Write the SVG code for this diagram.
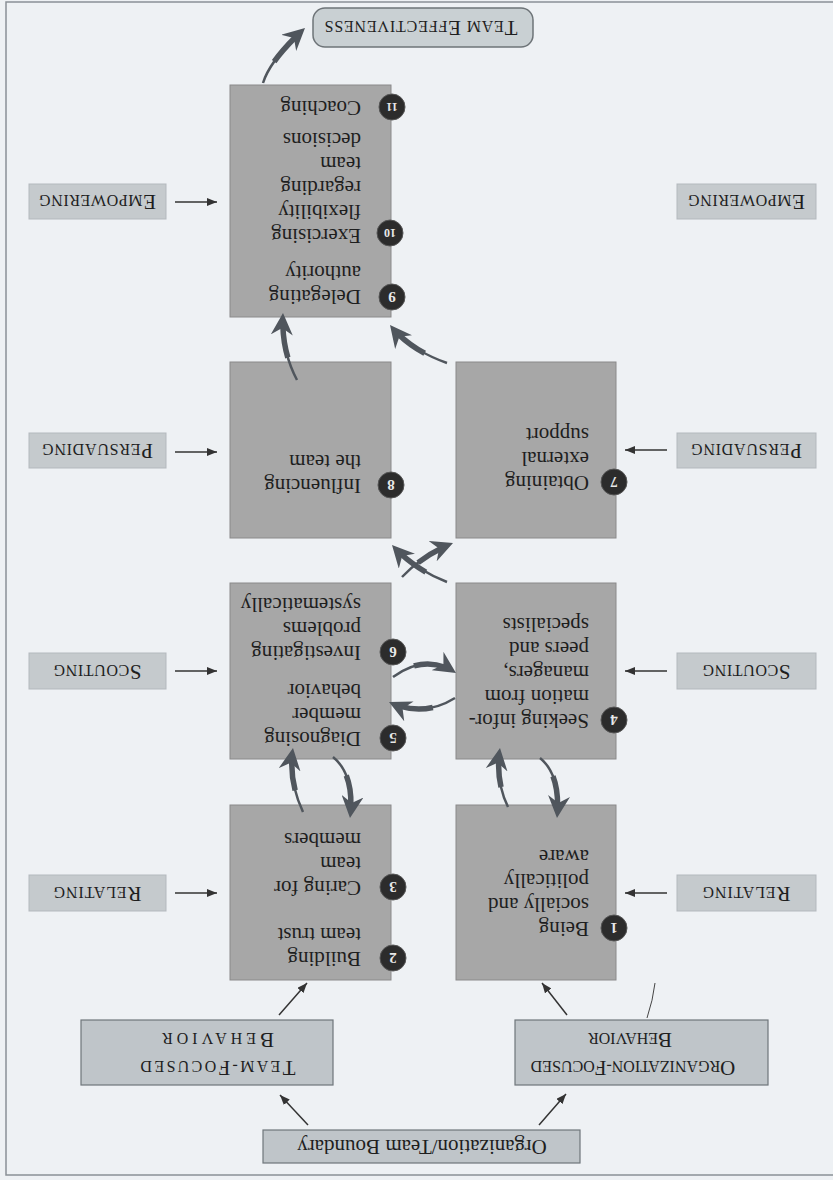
<svg xmlns="http://www.w3.org/2000/svg" width="833" height="1180" viewBox="0 0 833 1180">
<style>
.bg{fill:#eef1f4}
.frame{fill:none;stroke:#8a9096;stroke-width:1.5}
.box{fill:#a7a7a7;stroke:#8a8a8a;stroke-width:1}
.lbl{fill:#c5cacd;stroke:#b3b9bd;stroke-width:1}
.bbox{fill:#bfc5c9;stroke:#6f767b;stroke-width:1.2}
.te{fill:#c9d0d3;stroke:#6e7478;stroke-width:1.5}
text{font-family:"Liberation Serif","Times New Roman",serif;fill:#1e1e1e}
.bt{font-size:21px}
.nt{font-size:15px;font-weight:bold;fill:#e8e8e8;text-anchor:middle}
.nt2{font-size:12px;font-weight:bold;fill:#e8e8e8;text-anchor:middle}
.num{fill:#2c2c2c;stroke:#555;stroke-width:1}
.lt{font-size:16px;text-anchor:middle}
.lt .c{font-size:21px}
.bx{font-size:16px;text-anchor:middle}
.bx .c{font-size:21px}
.bd{font-size:21px;text-anchor:middle}
.ar{fill:none;stroke:#333;stroke-width:1.5;marker-end:url(#ah)}
.thin{fill:none;stroke:#444;stroke-width:1}
.sw{fill:none;stroke:#50565d;stroke-width:2.5;stroke-dasharray:86 14;marker-end:url(#hd)}
.sw2{fill:none;stroke:#50565d;stroke-width:5.5;stroke-dasharray:47 53;stroke-dashoffset:-35}
</style>
<defs>
<marker id="hd" markerUnits="userSpaceOnUse" viewBox="0 0 22 22" refX="22" refY="11" markerWidth="22" markerHeight="22" orient="auto">
<path d="M0,0 L22,11 L0,22 L7,11 Z" fill="#50565d"/>
</marker>
<marker id="ah" markerUnits="userSpaceOnUse" viewBox="0 0 10 8" refX="10" refY="4" markerWidth="10" markerHeight="8" orient="auto">
<path d="M0,0 L10,4 L0,8 Z" fill="#333"/>
</marker>
</defs>
<rect class="bg" x="0" y="0" width="833" height="1180"/>
<g transform="rotate(180 416.5 590)">
<rect class="frame" x="-10" y="5" width="837" height="1173"/>

<g id="team-effectiveness">
<rect class="te" x="300" y="1133" width="220" height="39" rx="12"/>
<text class="bx" x="412" y="1159" textLength="193" lengthAdjust="spacing"><tspan class="c">T</tspan>EAM <tspan class="c">E</tspan>FFECTIVENESS</text>
</g>

<g id="box-9-11">
<rect class="box" x="442" y="863" width="161" height="232"/>
<circle class="num" cx="441" cy="883" r="13"/><text class="nt" x="441" y="888">9</text>
<text class="bt" x="472" y="890">Delegating</text>
<text class="bt" x="472" y="914">authority</text>
<circle class="num" cx="443" cy="947" r="13"/><text class="nt2" x="443" y="951">10</text>
<text class="bt" x="472" y="951">Exercising</text>
<text class="bt" x="472" y="975">flexibility</text>
<text class="bt" x="472" y="999">regarding</text>
<text class="bt" x="472" y="1023">team</text>
<text class="bt" x="472" y="1047">decisions</text>
<circle class="num" cx="441" cy="1073" r="13"/><text class="nt2" x="441" y="1077">11</text>
<text class="bt" x="472" y="1079">Coaching</text>
</g>

<g id="box-8">
<rect class="box" x="442" y="642" width="161" height="176"/>
<circle class="num" cx="442" cy="695" r="13"/><text class="nt" x="442" y="700">8</text>
<text class="bt" x="472" y="701">Influencing</text>
<text class="bt" x="472" y="725">the team</text>
</g>

<g id="box-7">
<rect class="box" x="217" y="642" width="160" height="176"/>
<circle class="num" cx="219" cy="698" r="13"/><text class="nt" x="219" y="703">7</text>
<text class="bt" x="244" y="704">Obtaining</text>
<text class="bt" x="244" y="728">external</text>
<text class="bt" x="244" y="752">support</text>
</g>

<g id="box-5-6">
<rect class="box" x="442" y="421" width="161" height="176"/>
<circle class="num" cx="440" cy="442" r="13"/><text class="nt" x="440" y="447">5</text>
<text class="bt" x="472" y="448">Diagnosing</text>
<text class="bt" x="472" y="472">member</text>
<text class="bt" x="472" y="496">behavior</text>
<circle class="num" cx="440" cy="528" r="13"/><text class="nt" x="440" y="533">6</text>
<text class="bt" x="472" y="534">Investigating</text>
<text class="bt" x="472" y="558">problems</text>
<text class="bt" x="472" y="582">systematically</text>
</g>

<g id="box-4">
<rect class="box" x="217" y="421" width="160" height="176"/>
<circle class="num" cx="219" cy="460" r="13"/><text class="nt" x="219" y="465">4</text>
<text class="bt" x="244" y="466">Seeking infor-</text>
<text class="bt" x="244" y="490">mation from</text>
<text class="bt" x="244" y="514">managers,</text>
<text class="bt" x="244" y="538">peers and</text>
<text class="bt" x="244" y="562">specialists</text>
</g>

<g id="box-2-3">
<rect class="box" x="442" y="200" width="161" height="175"/>
<circle class="num" cx="440" cy="222" r="13"/><text class="nt" x="440" y="227">2</text>
<text class="bt" x="472" y="228">Building</text>
<text class="bt" x="472" y="252">team trust</text>
<circle class="num" cx="440" cy="293" r="13"/><text class="nt" x="440" y="298">3</text>
<text class="bt" x="472" y="299">Caring for</text>
<text class="bt" x="472" y="323">team</text>
<text class="bt" x="472" y="347">members</text>
</g>

<g id="box-1">
<rect class="box" x="217" y="200" width="160" height="175"/>
<circle class="num" cx="219" cy="252" r="13"/><text class="nt" x="219" y="257">1</text>
<text class="bt" x="244" y="258">Being</text>
<text class="bt" x="244" y="282">socially and</text>
<text class="bt" x="244" y="306">politically</text>
<text class="bt" x="244" y="330">aware</text>
</g>

<g id="label-empowering-left">
<rect class="lbl" x="667" y="961" width="137" height="35"/>
<text class="lt" x="735.5" y="985" textLength="117" lengthAdjust="spacing"><tspan class="c">E</tspan>MPOWERING</text>
</g>
<g id="label-empowering-right">
<rect class="lbl" x="17" y="961" width="139" height="35"/>
<text class="lt" x="86.5" y="985" textLength="117" lengthAdjust="spacing"><tspan class="c">E</tspan>MPOWERING</text>
</g>
<g id="label-persuading-left">
<rect class="lbl" x="667" y="712" width="137" height="35"/>
<text class="lt" x="735.5" y="736" textLength="111" lengthAdjust="spacing"><tspan class="c">P</tspan>ERSUADING</text>
</g>
<g id="label-persuading-right">
<rect class="lbl" x="17" y="712" width="139" height="35"/>
<text class="lt" x="86.5" y="736" textLength="111" lengthAdjust="spacing"><tspan class="c">P</tspan>ERSUADING</text>
</g>
<g id="label-scouting-left">
<rect class="lbl" x="667" y="491" width="137" height="36"/>
<text class="lt" x="735.5" y="515" textLength="88" lengthAdjust="spacing"><tspan class="c">S</tspan>COUTING</text>
</g>
<g id="label-scouting-right">
<rect class="lbl" x="17" y="491" width="139" height="36"/>
<text class="lt" x="86.5" y="515" textLength="88" lengthAdjust="spacing"><tspan class="c">S</tspan>COUTING</text>
</g>
<g id="label-relating-left">
<rect class="lbl" x="667" y="269" width="137" height="36"/>
<text class="lt" x="735.5" y="293" textLength="88" lengthAdjust="spacing"><tspan class="c">R</tspan>ELATING</text>
</g>
<g id="label-relating-right">
<rect class="lbl" x="17" y="269" width="139" height="36"/>
<text class="lt" x="86.5" y="293" textLength="88" lengthAdjust="spacing"><tspan class="c">R</tspan>ELATING</text>
</g>

<g id="team-focused">
<rect class="bbox" x="500" y="95" width="252" height="65"/>
<text class="bx" x="615" y="119" textLength="155" lengthAdjust="spacing"><tspan class="c">T</tspan>EAM-<tspan class="c">F</tspan>OCUSED</text>
<text class="bx" x="615" y="147" textLength="112" lengthAdjust="spacing"><tspan class="c">B</tspan>EHAVIOR</text>
</g>
<g id="organization-focused">
<rect class="bbox" x="65" y="95" width="253" height="65"/>
<text class="bx" x="200" y="119"><tspan class="c">O</tspan>RGANIZATION-<tspan class="c">F</tspan>OCUSED</text>
<text class="bx" x="203" y="147"><tspan class="c">B</tspan>EHAVIOR</text>
</g>
<g id="boundary">
<rect class="bbox" x="253" y="17" width="317" height="33"/>
<text class="bd" x="411" y="40">Organization/Team Boundary</text>
</g>

<g id="connectors">
<line class="ar" x1="658" y1="978" x2="616" y2="978"/>
<line class="ar" x1="658" y1="728" x2="616" y2="728"/>
<line class="ar" x1="658" y1="509" x2="616" y2="509"/>
<line class="ar" x1="658" y1="287" x2="616" y2="287"/>
<line class="ar" x1="166" y1="730" x2="208" y2="730"/>
<line class="ar" x1="166" y1="509" x2="208" y2="509"/>
<line class="ar" x1="166" y1="287" x2="208" y2="287"/>
<line class="ar" x1="525" y1="55" x2="553" y2="85"/>
<line class="ar" x1="294" y1="55" x2="267" y2="86"/>
<line class="ar" x1="554" y1="165" x2="526" y2="197"/>
<line class="ar" x1="266" y1="165" x2="291" y2="197"/>
<path class="thin" d="M186,162 Q180,180 178,197"/>

<path class="sw2" pathLength="100" d="M530,368 Q545,400 540,432"/>
<path class="sw" pathLength="100" d="M530,368 Q545,400 540,432"/>
<path class="sw2" pathLength="100" d="M500,423 Q478,405 483,362"/>
<path class="sw" pathLength="100" d="M500,423 Q478,405 483,362"/>
<path class="sw2" pathLength="100" d="M325,373 Q338,400 333,432"/>
<path class="sw" pathLength="100" d="M325,373 Q338,400 333,432"/>
<path class="sw2" pathLength="100" d="M293,422 Q272,405 276,362"/>
<path class="sw" pathLength="100" d="M293,422 Q272,405 276,362"/>
<path class="sw2" pathLength="100" d="M440,503 Q408,527 377,507"/>
<path class="sw" pathLength="100" d="M440,503 Q408,527 377,507"/>
<path class="sw2" pathLength="100" d="M378,482 Q410,462 444,478"/>
<path class="sw" pathLength="100" d="M378,482 Q410,462 444,478"/>
<path class="sw2" pathLength="100" d="M431,603 Q410,625 380,637"/>
<path class="sw" pathLength="100" d="M431,603 Q410,625 380,637"/>
<path class="sw2" pathLength="100" d="M386,598 Q418,610 441,635"/>
<path class="sw" pathLength="100" d="M386,598 Q418,610 441,635"/>
<path class="sw2" pathLength="100" d="M536,800 Q552,830 550,867"/>
<path class="sw" pathLength="100" d="M536,800 Q552,830 550,867"/>
<path class="sw2" pathLength="100" d="M386,817 Q423,830 443,855"/>
<path class="sw" pathLength="100" d="M386,817 Q423,830 443,855"/>
<path class="sw2" pathLength="100" d="M570,1097 Q563,1120 528,1152"/>
<path class="sw" pathLength="100" d="M570,1097 Q563,1120 528,1152"/>
</g>
</g>
</svg>
